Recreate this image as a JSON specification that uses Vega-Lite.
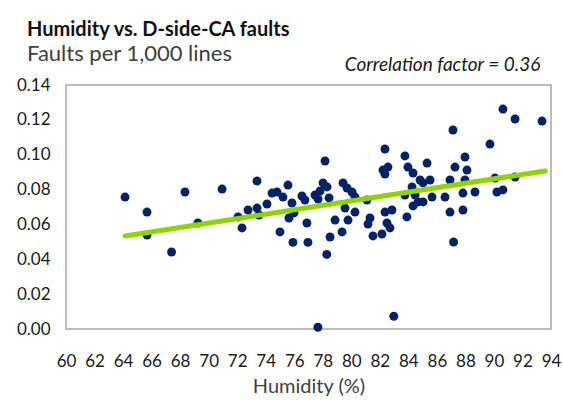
{
  "$schema": "https://vega.github.io/schema/vega-lite/v6.json",
  "width": 485,
  "height": 244,
  "autosize": {"type": "none"},
  "padding": {"left": 66, "top": 85, "right": 12, "bottom": 71},
  "background": "white",
  "title": {
    "text": "Humidity vs. D-side-CA faults",
    "subtitle": "Faults per 1,000 lines",
    "anchor": "start",
    "frame": "group",
    "dx": -39,
    "offset": -9,
    "font": "Lato",
    "fontSize": 20,
    "fontWeight": "bold",
    "color": "#111111",
    "subtitleFont": "Lato",
    "subtitleFontSize": 22,
    "subtitleColor": "#404040",
    "subtitlePadding": 4
  },
  "config": {
    "view": {"stroke": "#A6A6A6", "strokeWidth": 1.5},
    "font": "Lato",
    "axis": {
      "grid": false,
      "domain": false,
      "ticks": false,
      "labelFont": "Lato",
      "labelFontSize": 17,
      "labelColor": "#1a1a1a",
      "titleFont": "Lato",
      "titleFontSize": 20,
      "titleFontWeight": "normal",
      "titleColor": "#404040"
    }
  },
  "datasets": {
    "faults": [
      {"humidity": 64.14, "rate": 0.0757},
      {"humidity": 65.68, "rate": 0.0671},
      {"humidity": 65.68, "rate": 0.0539},
      {"humidity": 67.4, "rate": 0.0442},
      {"humidity": 68.34, "rate": 0.0786},
      {"humidity": 69.25, "rate": 0.0608},
      {"humidity": 70.94, "rate": 0.0803},
      {"humidity": 72.06, "rate": 0.0643},
      {"humidity": 72.34, "rate": 0.058},
      {"humidity": 72.76, "rate": 0.0683},
      {"humidity": 73.39, "rate": 0.0849},
      {"humidity": 73.39, "rate": 0.0694},
      {"humidity": 73.53, "rate": 0.0654},
      {"humidity": 74.09, "rate": 0.0717},
      {"humidity": 74.44, "rate": 0.078},
      {"humidity": 74.79, "rate": 0.0786},
      {"humidity": 75.21, "rate": 0.0757},
      {"humidity": 75.56, "rate": 0.0826},
      {"humidity": 75.84, "rate": 0.0723},
      {"humidity": 75.63, "rate": 0.0637},
      {"humidity": 75.98, "rate": 0.0666},
      {"humidity": 75.0, "rate": 0.0557},
      {"humidity": 75.91, "rate": 0.0497},
      {"humidity": 76.54, "rate": 0.0763},
      {"humidity": 76.75, "rate": 0.074},
      {"humidity": 76.89, "rate": 0.0608},
      {"humidity": 76.96, "rate": 0.0497},
      {"humidity": 78.16, "rate": 0.0964},
      {"humidity": 78.02, "rate": 0.0838},
      {"humidity": 78.3, "rate": 0.0815},
      {"humidity": 77.81, "rate": 0.0792},
      {"humidity": 77.46, "rate": 0.0769},
      {"humidity": 77.67, "rate": 0.0746},
      {"humidity": 78.44, "rate": 0.0752},
      {"humidity": 79.42, "rate": 0.0838},
      {"humidity": 79.7, "rate": 0.0809},
      {"humidity": 80.05, "rate": 0.0786},
      {"humidity": 80.26, "rate": 0.0757},
      {"humidity": 81.1, "rate": 0.074},
      {"humidity": 78.86, "rate": 0.0625},
      {"humidity": 79.56, "rate": 0.0694},
      {"humidity": 79.77, "rate": 0.0625},
      {"humidity": 80.26, "rate": 0.0671},
      {"humidity": 79.35, "rate": 0.0557},
      {"humidity": 78.51, "rate": 0.0528},
      {"humidity": 78.28, "rate": 0.0428},
      {"humidity": 77.66, "rate": 0.001},
      {"humidity": 81.31, "rate": 0.0637},
      {"humidity": 81.17, "rate": 0.0602},
      {"humidity": 87.13, "rate": 0.1142},
      {"humidity": 82.36, "rate": 0.1033},
      {"humidity": 83.76, "rate": 0.0993},
      {"humidity": 82.22, "rate": 0.0912},
      {"humidity": 82.57, "rate": 0.0929},
      {"humidity": 82.36, "rate": 0.0889},
      {"humidity": 83.97, "rate": 0.0929},
      {"humidity": 84.33, "rate": 0.0895},
      {"humidity": 85.31, "rate": 0.0952},
      {"humidity": 84.82, "rate": 0.0855},
      {"humidity": 85.03, "rate": 0.0838},
      {"humidity": 85.52, "rate": 0.0855},
      {"humidity": 84.26, "rate": 0.0815},
      {"humidity": 86.92, "rate": 0.0855},
      {"humidity": 87.27, "rate": 0.0929},
      {"humidity": 87.97, "rate": 0.0987},
      {"humidity": 88.11, "rate": 0.0912},
      {"humidity": 87.83, "rate": 0.078},
      {"humidity": 87.97, "rate": 0.0855},
      {"humidity": 83.76, "rate": 0.0769},
      {"humidity": 84.47, "rate": 0.0769},
      {"humidity": 84.68, "rate": 0.0729},
      {"humidity": 85.03, "rate": 0.0729},
      {"humidity": 84.33, "rate": 0.0706},
      {"humidity": 85.66, "rate": 0.0757},
      {"humidity": 86.57, "rate": 0.0757},
      {"humidity": 82.36, "rate": 0.0671},
      {"humidity": 82.85, "rate": 0.0683},
      {"humidity": 83.9, "rate": 0.0643},
      {"humidity": 86.92, "rate": 0.0671},
      {"humidity": 87.83, "rate": 0.0683},
      {"humidity": 82.5, "rate": 0.0608},
      {"humidity": 82.71, "rate": 0.058},
      {"humidity": 81.52, "rate": 0.0534},
      {"humidity": 82.15, "rate": 0.0545},
      {"humidity": 87.17, "rate": 0.0499},
      {"humidity": 82.98, "rate": 0.0073},
      {"humidity": 90.63, "rate": 0.1262},
      {"humidity": 91.48, "rate": 0.1205},
      {"humidity": 93.37, "rate": 0.1193},
      {"humidity": 89.72, "rate": 0.1061},
      {"humidity": 90.07, "rate": 0.0866},
      {"humidity": 91.48, "rate": 0.0872},
      {"humidity": 88.67, "rate": 0.0786},
      {"humidity": 90.21, "rate": 0.0786},
      {"humidity": 90.63, "rate": 0.0798}
    ],
    "trend": [
      {"humidity": 64.14, "rate": 0.0534},
      {"humidity": 93.6, "rate": 0.0907}
    ],
    "note": [
      {"humidity": 93.25, "rate": 0.14, "label": "Correlation factor = 0.36"}
    ]
  },
  "encoding": {
    "x": {
      "field": "humidity",
      "type": "quantitative",
      "scale": {"domain": [60, 94], "nice": false, "zero": false},
      "axis": {
        "title": "Humidity (%)",
        "values": [60, 62, 64, 66, 68, 70, 72, 74, 76, 78, 80, 82, 84, 86, 88, 90, 92, 94],
        "labelPadding": 24,
        "titlePadding": 7,
        "labelFlush": false,
        "labelOverlap": false
      }
    },
    "y": {
      "field": "rate",
      "type": "quantitative",
      "scale": {"domain": [0, 0.14], "nice": false},
      "axis": {
        "title": null,
        "values": [0, 0.02, 0.04, 0.06, 0.08, 0.1, 0.12, 0.14],
        "format": ".2f",
        "labelPadding": 16,
        "labelFlush": false,
        "labelOverlap": false
      }
    }
  },
  "layer": [
    {
      "data": {"name": "faults"},
      "mark": {"type": "circle", "color": "#002366", "size": 80, "opacity": 1}
    },
    {
      "data": {"name": "trend"},
      "mark": {"type": "line", "color": "#8FD400", "strokeWidth": 5, "strokeCap": "round"}
    },
    {
      "data": {"name": "note"},
      "mark": {"type": "text", "align": "right", "baseline": "bottom", "dy": -10, "font": "Lato", "fontStyle": "italic", "fontSize": 19, "color": "#1a1a1a"},
      "encoding": {"text": {"field": "label"}}
    }
  ]
}
